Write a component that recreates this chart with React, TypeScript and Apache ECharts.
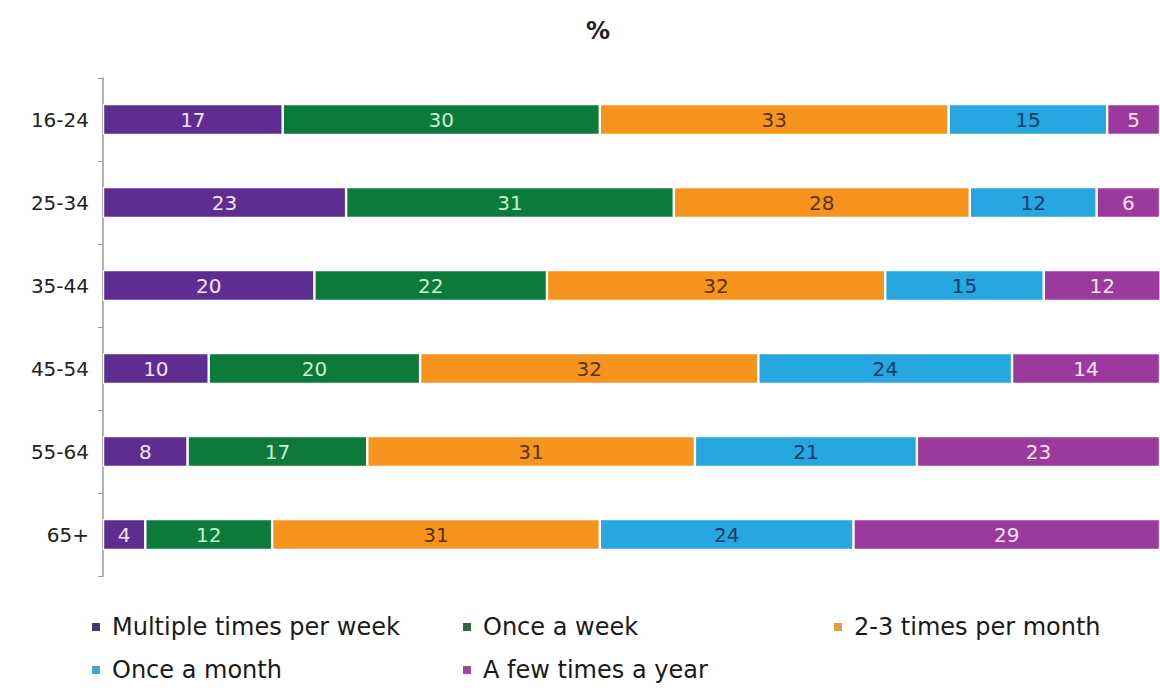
import React, { useEffect, useRef } from "react";
import * as echarts from "echarts";

const categories = ["16-24", "25-34", "35-44", "45-54", "55-64", "65+"];
const seriesNames = [
  "Multiple times per week",
  "Once a week",
  "2-3 times per month",
  "Once a month",
  "A few times a year",
];
const multipleWeek = [17, 23, 20, 10, 8, 4];
const onceWeek = [30, 31, 22, 20, 17, 12];
const twoThreeMonth = [33, 28, 32, 32, 31, 31];
const onceMonth = [15, 12, 15, 24, 21, 24];
const fewYear = [5, 6, 12, 14, 23, 29];

const seriesData = [multipleWeek, onceWeek, twoThreeMonth, onceMonth, fewYear];
const colors = ["#5f2d91", "#0b7a3b", "#f7941d", "#27a6df", "#9b399c"];
const labelColors = ["#f0e4f8", "#c9f0cf", "#5a3208", "#163a6a", "#f8e4f4"];
const legendMarkerColors = ["#4e3a63", "#2a6b48", "#e0a048", "#4aa6c8", "#9a4a98"];
const legendPos = [
  { left: 90, top: 615 },
  { left: 461, top: 615 },
  { left: 832, top: 615 },
  { left: 90, top: 658 },
  { left: 461, top: 658 },
];

export default function App() {
  const ref = useRef<HTMLDivElement>(null);
  useEffect(() => {
    document.body.style.margin = "0";
    const chart = echarts.init(ref.current!, null, { renderer: "svg" });
    const font = "DejaVu Sans, Verdana, sans-serif";
    chart.setOption({
      animation: false,
      backgroundColor: "#ffffff",
      title: {
        text: "%",
        left: 581,
        top: 14,
        textStyle: { fontSize: 24, fontWeight: "bold", color: "#222", fontFamily: font },
      },
      legend: seriesNames.map((n, i) => ({
        data: [{ name: n, itemStyle: { color: legendMarkerColors[i] } }],
        left: legendPos[i].left,
        top: legendPos[i].top,
        icon: "rect",
        itemWidth: 10,
        itemHeight: 10,
        itemGap: 0,
        padding: 0,
        textStyle: { fontSize: 24, color: "#1a1a1a", fontFamily: font, padding: [0, 0, 0, 6] },
      })),
      grid: { left: 103, top: 78, width: 1060, height: 498, containLabel: false },
      xAxis: { type: "value", min: 0, max: 100, show: false },
      yAxis: {
        type: "category",
        data: categories,
        inverse: true,
        axisLine: { show: true, lineStyle: { color: "#9a9a9a", width: 1.5 } },
        axisTick: { show: true, length: 5, lineStyle: { color: "#9a9a9a" } },
        axisLabel: { fontSize: 20, color: "#222", fontFamily: font, margin: 14 },
      },
      series: seriesData.map((d, i) => ({
        name: seriesNames[i],
        type: "bar",
        stack: "total",
        data: d,
        barWidth: 31,
        itemStyle: { color: colors[i], borderColor: "#ffffff", borderWidth: 1.2 },
        label: {
          show: true,
          position: "inside",
          fontSize: 20,
          color: labelColors[i],
          fontFamily: font,
        },
      })),
    });
    return () => chart.dispose();
  }, []);
  return <div ref={ref} style={{ width: 1160, height: 690 }} />;
}
